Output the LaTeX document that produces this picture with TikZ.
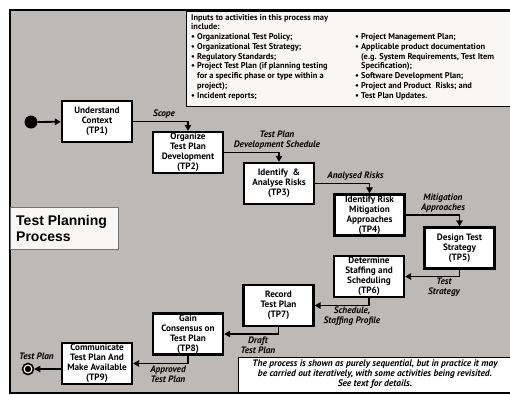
\documentclass[tikz,border=0pt]{standalone}
\usepackage{fontspec}
\setmainfont{PT Sans}
\newfontfamily\titlefont{Liberation Sans}
\definecolor{procGray}{RGB}{190,185,181}
\definecolor{paneWhite}{RGB}{248,247,245}
\usetikzlibrary{arrows.meta, calc}

\begin{document}
\begin{tikzpicture}[x=1pt, y=-1pt,
  >={Triangle[length=6pt, width=6.5pt]},
  activity/.style={draw=black, line width=2.4pt, fill=white,
               minimum width=70pt, minimum height=41pt, inner sep=1pt,
               align=center, font=\bfseries\fontsize{9.2}{9.9}\selectfont},
  flow/.style={->, line width=1.8pt, black},
  flowlabel/.style={align=center, inner sep=0pt,
               font=\bfseries\itshape\fontsize{9.3}{10}\selectfont},
  pane/.style={draw=black, line width=0.8pt, fill=paneWhite},
  inputtext/.style={anchor=north west, align=left, inner sep=0pt,
               font=\bfseries\fontsize{8.4}{9.75}\selectfont}]
  \useasboundingbox (0,0) rectangle (510,394);
  % frame and panes
  \begin{scope}
    \clip (0,0) rectangle (510,394);
    \fill[procGray] (10,10) rectangle (516,393);
    \draw[pane] (186,11) rectangle (514,106);
    \draw[pane, fill=white] (238,357) rectangle (514,392);
    \draw[line width=2.4pt] (10,10) rectangle (516,393);
  \end{scope}
  \node[draw=black!55, line width=0.6pt, fill=paneWhite, anchor=north west,
        minimum width=108pt, minimum height=42pt, inner sep=0pt] (title) at (10,207) {};
  \node[anchor=west, align=left, inner sep=0pt,
        font=\titlefont\bfseries\fontsize{14}{16}\selectfont] (titletext) at (16,228) {Test Planning\\Process};
  % inputs
  \node[inputtext] (inleft) at (191,14) {Inputs to activities in this process may\\
    include:\\
    • Organizational Test Policy;\\
    • Organizational Test Strategy;\\
    • Regulatory Standards;\\
    • Project Test Plan (if planning testing\\
    \phantom{•~}for a specific phase or type within a\\
    \phantom{•~}project);\\
    • Incident reports;};
  \node[inputtext] (inright) at (355,33.5) {• Project Management Plan;\\
    • Applicable product documentation\\
    \phantom{•~}(e.g. System Requirements, Test Item\\
    \phantom{•~}Specification);\\
    • Software Development Plan;\\
    • Project and Product\ \ Risks; and\\
    • Test Plan Updates.};
  % activities
  \node[activity] (tp1) at (97,121.5) {Understand\\Context\\(TP1)};
  \node[activity] (tp2) at (188,152.5) {Organize\\Test Plan\\Development\\(TP2)};
  \node[activity] (tp3) at (279,183.5) {Identify\ \ \&\\Analyse Risks\\(TP3)};
  \node[activity] (tp4) at (369.5,215) {Identify Risk\\Mitigation\\Approaches\\(TP4)};
  \node[activity] (tp5) at (459.5,248) {Design Test\\Strategy\\(TP5)};
  \node[activity] (tp6) at (369,276.5) {Determine\\Staffing and\\Scheduling\\(TP6)};
  \node[activity] (tp7) at (278.5,305.5) {Record\\Test Plan\\(TP7)};
  \node[activity] (tp8) at (188,334) {Gain\\Consensus on\\Test Plan\\(TP8)};
  \node[activity] (tp9) at (97,363.5) {Communicate\\Test Plan And\\Make Available\\(TP9)};
  \node[circle, fill=black, minimum size=13pt, inner sep=0pt] (start) at (31,122) {};
  \node[circle, draw=black, line width=1.6pt, fill=white, minimum size=11pt, inner sep=0pt] (stop) at (28,369) {};
  \fill[black] (stop) circle (3.2);
  % flows
  \draw[flow] (start) -- (tp1);
  \draw[flow] (tp1) -| (tp2);
  \draw[flow] (tp2) -| (tp3);
  \draw[flow] (tp3) -| (tp4);
  \draw[flow] (tp4) -| (tp5);
  \draw[flow] (tp5) |- (tp6);
  \draw[flow] (tp6) |- (tp7);
  \draw[flow] (tp7) |- (tp8);
  \draw[flow] (tp8) |- (tp9);
  \draw[flow] (tp9.west |- stop) -- (stop);
  % flow labels
  \node[flowlabel] (lscope) at (164,114) {Scope};
  \node[flowlabel] (lsched) at (277,140.5) {Test Plan\\Development Schedule};
  \node[flowlabel] (lrisks) at (355.5,176) {Analysed Risks};
  \node[flowlabel] (lmitig) at (443,203.5) {Mitigation\\Approaches};
  \node[flowlabel] (lstrat) at (444,287) {Test\\Strategy};
  \node[flowlabel] (lstaff) at (352,316) {Schedule,\\Staffing Profile};
  \node[flowlabel] (ldraft) at (258,345) {Draft\\Test Plan};
  \node[flowlabel] (lappr) at (168,374.5) {Approved\\Test Plan};
  \node[flowlabel] (lplan) at (36.5,356) {Test Plan};
  % note
  \node[flowlabel, font=\bfseries\itshape\fontsize{9.4}{10}\selectfont] (note) at (375,374.5)
    {The process is shown as purely sequential, but in practice it may\\
     be carried out iteratively, with some activities being revisited.\\
     See text for details.};
\end{tikzpicture}
\end{document}
